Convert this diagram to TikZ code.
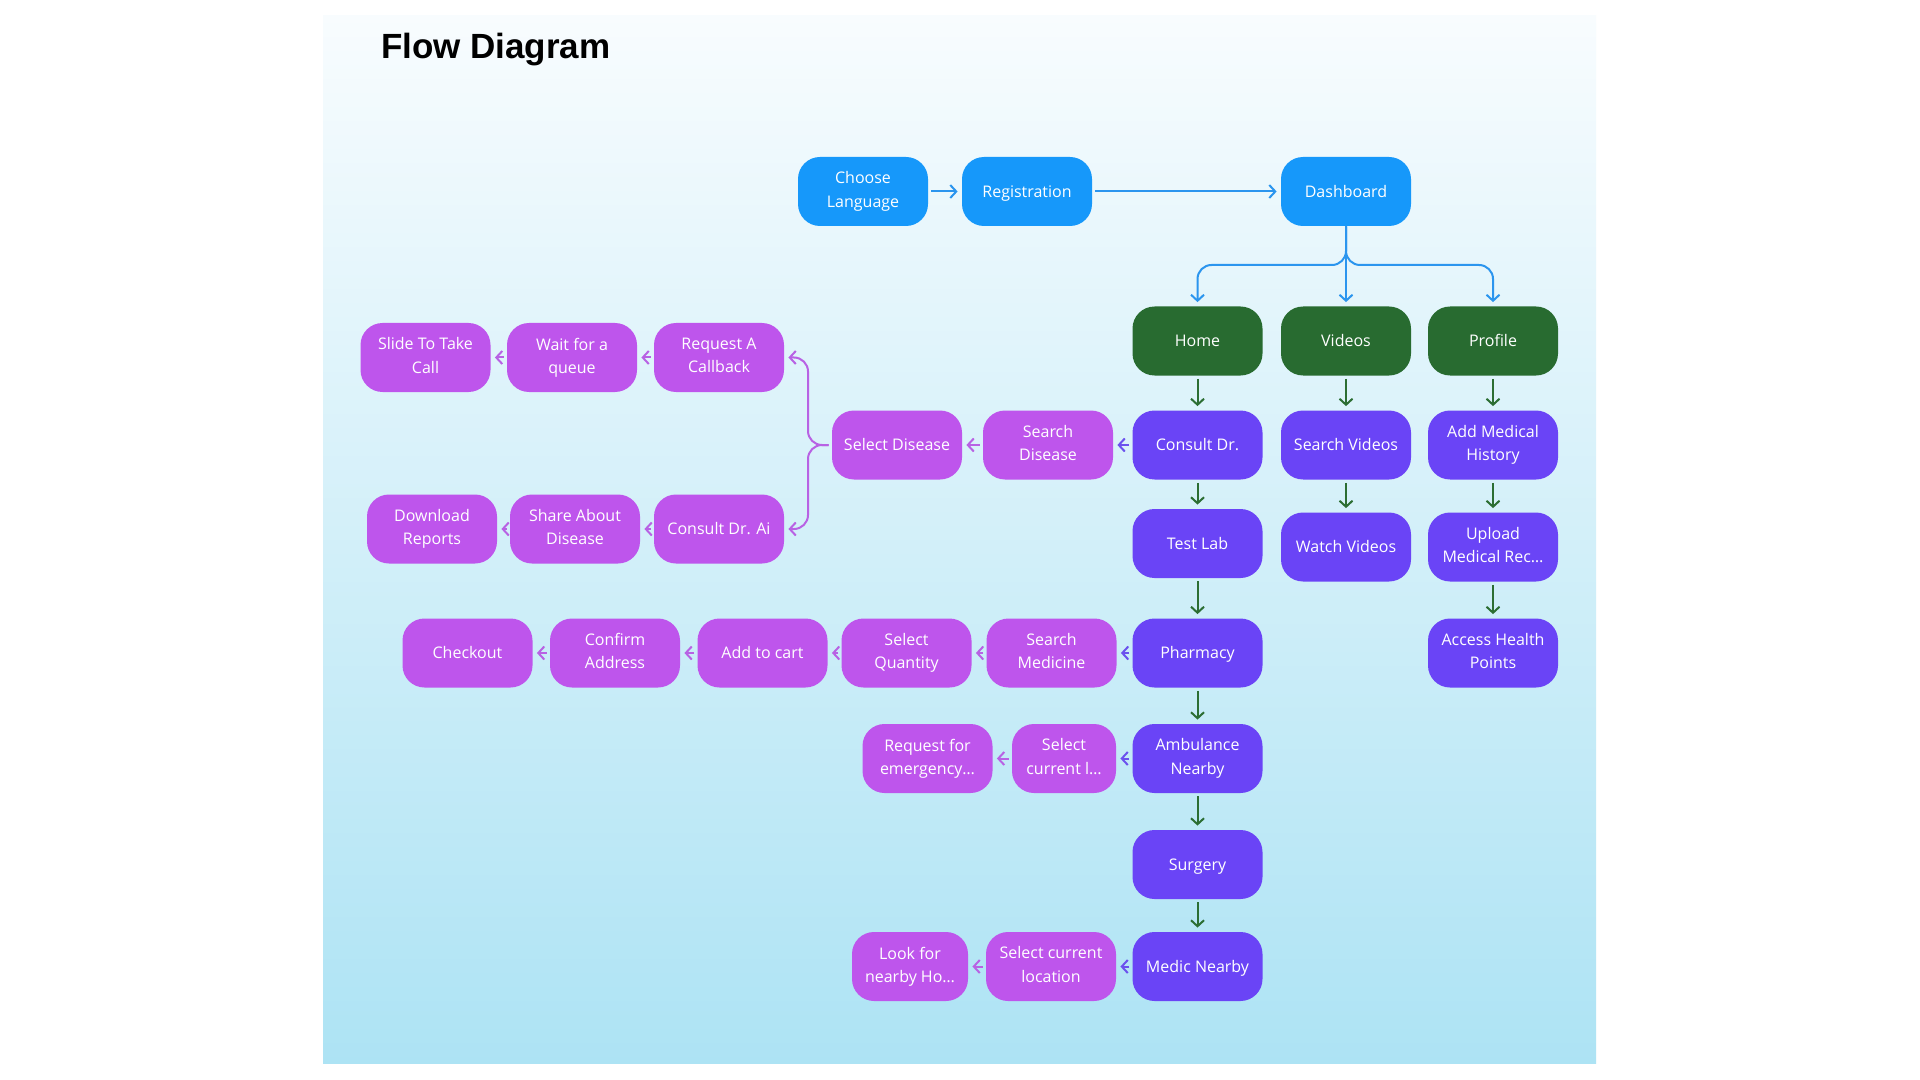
\documentclass[tikz,border=0pt]{standalone}
\usepackage{fontspec}
\usetikzlibrary{arrows.meta}
\newfontfamily\nodefont{Open Sans}
\newfontfamily\titlefont{Liberation Sans}
\definecolor{paneltop}{RGB}{248,252,254}
\definecolor{panelbottom}{RGB}{173,227,244}
\definecolor{skyblue}{RGB}{22,152,250}
\definecolor{leaf}{RGB}{40,107,48}
\definecolor{indigo}{RGB}{106,68,246}
\definecolor{orchid}{RGB}{190,85,236}
\definecolor{skyline}{RGB}{43,149,238}
\definecolor{leafline}{RGB}{44,110,51}
\definecolor{indigoline}{RGB}{107,82,238}
\definecolor{orchidline}{RGB}{184,98,228}
\begin{document}
\begin{tikzpicture}[x=0.5pt,y=-0.5pt,
  box/.style={rounded corners=11pt,minimum width=65pt,minimum height=34.5pt,inner sep=0pt,
    align=center,text=white,font=\nodefont\fontsize{8}{11.6}\selectfont,
    execute at begin node={\rule{0pt}{7.7pt}},execute at end node={\rule[-2pt]{0pt}{2pt}}},
  startbox/.style={box,fill=skyblue},
  tabbox/.style={box,fill=leaf},
  mainbox/.style={box,fill=indigo},
  subbox/.style={box,fill=orchid},
  link/.style={line width=1pt,-{Straight Barb[length=3pt,width=6.5pt]},rounded corners=7pt,shorten >=2pt},
  skylink/.style={link,draw=skyline},
  leaflink/.style={link,draw=leafline,shorten <=1.5pt},
  indigolink/.style={link,draw=indigoline,shorten <=1.5pt},
  orchidlink/.style={link,draw=orchidline,shorten <=1.5pt}]
\useasboundingbox (0,0) rectangle (1920,1080);
\fill[white] (0,0) rectangle (1920,1080);
\shade[top color=paneltop,bottom color=panelbottom] (323,16) rectangle (1596,1063);
\node[anchor=base west,font=\titlefont\bfseries\fontsize{17.5}{20}\selectfont] (title) at (374,59) {Flow Diagram};

\node[startbox] (lang) at (863,191.5) {Choose\\Language};
\node[startbox] (reg) at (1027,191.5) {Registration};
\node[startbox] (dash) at (1346,191.5) {Dashboard};

\node[tabbox] (home) at (1197.5,341) {Home};
\node[tabbox] (videos) at (1346,341) {Videos};
\node[tabbox] (profile) at (1493,341) {Profile};

\node[mainbox] (consult) at (1197.5,445) {Consult Dr.};
\node[mainbox] (testlab) at (1197.5,543.5) {Test Lab};
\node[mainbox] (pharmacy) at (1197.5,653) {Pharmacy};
\node[mainbox] (ambulance) at (1197.5,758.5) {Ambulance\\Nearby};
\node[mainbox] (surgery) at (1197.5,864.5) {Surgery};
\node[mainbox] (medic) at (1197.5,966.5) {Medic Nearby};
\node[mainbox] (searchvid) at (1346,445) {Search Videos};
\node[mainbox] (watchvid) at (1346,547) {Watch Videos};
\node[mainbox] (history) at (1493,445) {Add Medical\\History};
\node[mainbox] (upload) at (1493,547) {Upload\\Medical Rec…};
\node[mainbox] (points) at (1493,653) {Access Health\\Points};

\node[subbox] (searchdis) at (1048,445) {Search\\Disease};
\node[subbox] (seldis) at (897,445) {Select Disease};
\node[subbox] (callback) at (719,357.5) {Request A\\Callback};
\node[subbox] (queue) at (572,357.5) {Wait for a\\queue};
\node[subbox] (slide) at (425.5,357.5) {Slide To Take\\Call};
\node[subbox] (drai) at (719,529) {Consult Dr. Ai};
\node[subbox] (share) at (575,529) {Share About\\Disease};
\node[subbox] (download) at (432,529) {Download\\Reports};

\node[subbox] (searchmed) at (1051.5,653) {Search\\Medicine};
\node[subbox] (quantity) at (906.5,653) {Select\\Quantity};
\node[subbox] (cart) at (762.5,653) {Add to cart};
\node[subbox] (address) at (615,653) {Confirm\\Address};
\node[subbox] (checkout) at (467.5,653) {Checkout};

\node[subbox,minimum width=52pt] (curloc) at (1064,758.5) {Select\\current l…};
\node[subbox] (emergency) at (927.5,758.5) {Request for\\emergency…};
\node[subbox] (location) at (1051,966.5) {Select current\\location};
\node[subbox,minimum width=58pt] (hospital) at (910,966.5) {Look for\\nearby Ho…};

\coordinate (split) at (1346,265);
\coordinate (fork) at (808,445);

\draw[skylink,shorten <=1.5pt] (lang) -- (reg);
\draw[skylink,shorten <=1.5pt] (reg) -- (dash);
\draw[skylink] (dash.south) -- (split) -| (home.north);
\draw[skylink] (dash.south) -- (videos.north);
\draw[skylink] (dash.south) -- (split) -| (profile.north);

\draw[leaflink] (home) -- (consult);
\draw[leaflink] (consult) -- (testlab);
\draw[leaflink] (testlab) -- (pharmacy);
\draw[leaflink] (pharmacy) -- (ambulance);
\draw[leaflink] (ambulance) -- (surgery);
\draw[leaflink] (surgery) -- (medic);
\draw[leaflink] (videos) -- (searchvid);
\draw[leaflink] (searchvid) -- (watchvid);
\draw[leaflink] (profile) -- (history);
\draw[leaflink] (history) -- (upload);
\draw[leaflink] (upload) -- (points);

\draw[indigolink] (consult) -- (searchdis);
\draw[orchidlink] (searchdis) -- (seldis);
\draw[orchidlink] (seldis.west) -- (fork) |- (callback.east);
\draw[orchidlink] (seldis.west) -- (fork) |- (drai.east);
\draw[orchidlink] (callback) -- (queue);
\draw[orchidlink] (queue) -- (slide);
\draw[orchidlink] (drai) -- (share);
\draw[orchidlink] (share) -- (download);

\draw[indigolink] (pharmacy) -- (searchmed);
\draw[orchidlink] (searchmed) -- (quantity);
\draw[orchidlink] (quantity) -- (cart);
\draw[orchidlink] (cart) -- (address);
\draw[orchidlink] (address) -- (checkout);

\draw[indigolink] (ambulance) -- (curloc);
\draw[orchidlink] (curloc) -- (emergency);
\draw[indigolink] (medic) -- (location);
\draw[orchidlink] (location) -- (hospital);
\end{tikzpicture}
\end{document}
